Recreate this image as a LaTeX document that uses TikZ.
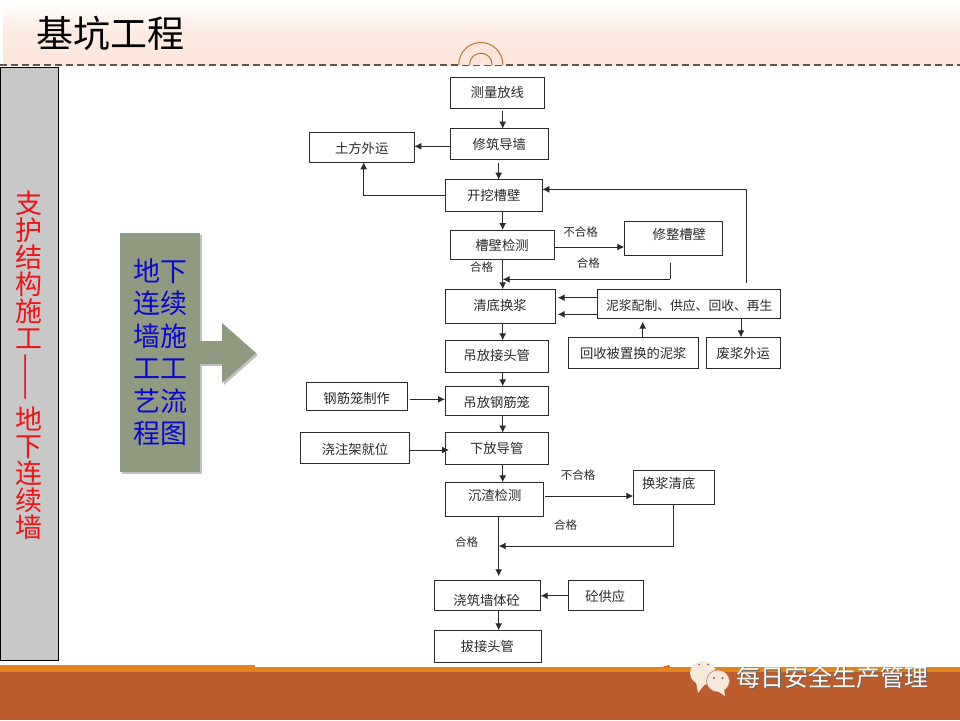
\documentclass[tikz,border=0pt]{standalone}
\usepackage{fontspec}
\setmainfont{Noto Sans CJK SC}
\usetikzlibrary{arrows.meta}
\definecolor{peach}{HTML}{FDE5D9}
\definecolor{dashc}{HTML}{5F5650}
\definecolor{ringc}{HTML}{B8762F}
\definecolor{panelg}{HTML}{C8C8C8}
\definecolor{sage}{HTML}{8F9A80}
\definecolor{bandor}{HTML}{E2851B}
\definecolor{bandbr}{HTML}{BC5B2C}
\definecolor{bubble}{HTML}{F8E9DF}
\definecolor{inkc}{HTML}{2B2B2B}
\definecolor{redt}{HTML}{F01414}
\definecolor{bluet}{HTML}{0A0ACF}
\tikzset{
  flowbox/.style={draw=inkc,line width=1pt,rectangle,inner sep=0pt,outer sep=0pt,text=inkc,fill=white},
  arr/.style={draw=inkc,line width=1pt,-{Latex[length=7pt,width=7pt]}},
  lne/.style={draw=inkc,line width=1pt},
  lbl/.style={font=\fontsize{11.5}{14}\selectfont,text=inkc,inner sep=0pt},
}
\newcommand\flowb[8][13.3]{%
  \pgfmathsetmacro\bcx{(#3+#5)/2}%
  \pgfmathsetmacro\bcy{(#4+#6)/2}%
  \pgfmathsetmacro\bdx{#7-\bcx}%
  \pgfmathsetmacro\brs{\bcy-#8-5}%
  \node[flowbox,minimum width={(#5-#3)*1pt},minimum height={(#6-#4)*1pt}] (#2) at (\bcx,\bcy)
    {\fontsize{#1}{16}\selectfont\makebox[0pt][l]{\kern\bdx pt\makebox[0pt][c]{\raisebox{\brs pt}[0pt][0pt]{\flowtext}}}};%
}
\begin{document}
\begin{tikzpicture}[x=1pt,y=-1pt]
\useasboundingbox (0,0) rectangle (960,720);
% header
\shade[top color=white,bottom color=peach,middle color=peach!75] (3,0) rectangle (960,65);
\draw[dashc,line width=1.5pt,dash pattern=on 6.5pt off 4.5pt] (0,65) -- (960,65);
\begin{scope}
  \clip (440,30) rectangle (520,64.5);
  \fill[peach] (480.8,64.5) circle (22);
  \draw[ringc,line width=1pt] (480.8,64.5) circle (22);
  \draw[ringc,line width=1pt] (480.8,64.5) circle (11.3);
\end{scope}
\node[inner sep=0pt,font=\fontsize{37}{40}\selectfont,text=black] (title) at (110,33) {基坑工程};
% left panel
\node[draw=black,line width=1pt,fill=panelg,rectangle,inner sep=0pt,minimum width=58pt,minimum height=593.5pt] (panel) at (29,364) {};
\node[inner sep=0pt,text=redt,align=center,font=\fontsize{27}{27}\selectfont] (ptop) at (29,269.5) {支\\护\\结\\构\\施\\工};
\node[inner sep=0pt,text=redt,rotate=90,font=\fontsize{28}{28}\selectfont] (pdash) at (29,377.5) {——};
\node[inner sep=0pt,text=redt,align=center,font=\fontsize{27}{27}\selectfont] (pbot) at (29,473) {地\\下\\连\\续\\墙};
% green arrow panel
\fill[black!45,opacity=.55] (122,235) rectangle (202,474);
\fill[black!45,opacity=.55] (202,343) -- (224,343) -- (224,325) -- (258,355) -- (224,385) -- (224,366) -- (202,366) -- cycle;
\fill[sage] (120,233) rectangle (200,472);
\fill[sage] (199,341) -- (222,341) -- (222,323) -- (256,353) -- (222,383) -- (222,364) -- (199,364) -- cycle;
\node[inner sep=0pt,text=bluet,align=center,font=\fontsize{27}{32.5}\selectfont] (bluetxt) at (160.5,352) {地下\\连续\\墙施\\工工\\艺流\\程图};
% footer
\fill[bandor] (0,665) rectangle (255,672);
\fill[bandor] (255,667) rectangle (960,672);
\fill[bandor!70!red] (662,667) -- (669,665) -- (670,667) -- cycle;
\fill[bandbr] (0,672) rectangle (960,720);
% wechat icon
\fill[bubble] (703,673) ellipse (13 and 12);
\fill[bubble] (696,682) -- (698,693) -- (705,684) -- cycle;
\fill[black!55] (699,664.5) circle (1);
\fill[black!55] (708,664.5) circle (1);
\draw[bandbr!80,line width=.6pt,fill=bubble] (718,681) ellipse (11.5 and 11);
\fill[bubble] (716,690) -- (725,696) -- (724,689) -- cycle;
\fill[black!60] (714,678) circle (1.1);
\fill[black!60] (722.5,678) circle (1.1);
\node[inner sep=0pt,text=black!60,font=\fontsize{24}{26}\selectfont] (wmshadow) at (833.3,678) {每日安全生产管理};
\node[inner sep=0pt,text=white,font=\fontsize{24}{26}\selectfont] (wm) at (832.5,677) {每日安全生产管理};
% flow boxes
\def\flowtext{测量放线}\flowb{a}{450.3}{77.3}{544.7}{108.7}{497.3}{92.7}
\def\flowtext{修筑导墙}\flowb{b}{450}{128.7}{548}{159}{499.3}{144.3}
\def\flowtext{土方外运}\flowb{tf}{309.3}{132}{414.3}{162.3}{361.7}{148}
\def\flowtext{开挖槽壁}\flowb{c}{445}{179.7}{542.3}{211.3}{493.7}{195.3}
\def\flowtext{槽壁检测}\flowb{d}{450.3}{230}{554.3}{259.3}{502}{245.7}
\def\flowtext{修整槽壁}\flowb{xz}{624.3}{221.7}{722.3}{255}{679.3}{234}
\def\flowtext{清底换浆}\flowb{e}{445}{289.3}{555.7}{323.3}{500}{305.3}
\def\flowtext{泥浆配制、供应、回收、再生}\flowb[12.8]{nj}{597}{289.3}{780.3}{318.7}{689.3}{305.3}
\def\flowtext{吊放接头管}\flowb{f}{445}{340.3}{548}{372}{496.7}{355.7}
\def\flowtext{回收被置换的泥浆}\flowb{hs}{568}{337.3}{698.3}{368.3}{633.3}{353.7}
\def\flowtext{废浆外运}\flowb{fj}{706.7}{337.3}{780.3}{368.3}{743.3}{353.7}
\def\flowtext{钢筋笼制作}\flowb{gj}{306.7}{382.7}{407.7}{410.7}{356.7}{398.7}
\def\flowtext{吊放钢筋笼}\flowb{g}{445}{386.3}{548}{415.7}{496.7}{402}
\def\flowtext{浇注架就位}\flowb{jz}{300}{432.7}{409.3}{463.3}{355}{449}
\def\flowtext{下放导管}\flowb{h}{445}{432.7}{548}{464.3}{496.7}{448.7}
\def\flowtext{沉渣检测}\flowb{i}{445}{482.3}{543.3}{516.3}{494.7}{495}
\def\flowtext{换浆清底}\flowb{hj}{633.3}{470.3}{714}{504.7}{668.7}{483.3}
\def\flowtext{浇筑墙体砼}\flowb{j}{434.7}{580.3}{540.7}{610.7}{486.7}{600}
\def\flowtext{砼供应}\flowb{gy}{568}{580.3}{643.7}{610.7}{605.3}{596.7}
\def\flowtext{拔接头管}\flowb{k}{434.7}{630.3}{541.7}{662.3}{487.3}{646.3}
% helper coordinates
\coordinate (xa) at (502.7,0);
\coordinate (xb) at (498.7,0);
\coordinate (xtf) at (363.7,0);
\coordinate (xhs) at (642.7,0);
\coordinate (xfj) at (741,0);
\coordinate (xz1) at (670,262.7);
\coordinate (xz2) at (670,279.3);
\coordinate (hj1) at (673.7,504.7);
\coordinate (hj2) at (673.7,546);
\coordinate (nj1) at (746.3,283.3);
\coordinate (nj2) at (746.3,189.3);
% connectors
\draw[arr] ([yshift=-2.6pt]xa |- a.south) -- (xa |- b.north);
\draw[arr] (b.west |- 0,146.3) -- (tf.east |- 0,146.3);
\draw[arr] ([yshift=-3.7pt]xb |- b.south) -- (xb |- c.north);
\draw[arr] (c.west) -- (xtf |- c.west) -- (xtf |- tf.south);
\draw[arr] (xa |- c.south) -- (xa |- d.north);
\draw[arr] (d.east |- 0,247) -- (xz.west |- 0,247);
\draw[lne] (xz1) -- (xz2);
\draw[arr] (xz2) -- (xa |- xz2);
\draw[arr] (xa |- d.south) -- (xa |- e.north);
\draw[arr] (nj.west |- 0,297.7) -- (557.7,297.7);
\draw[arr] (nj.west |- 0,314.3) -- (557.7,314.3);
\draw[arr] (nj1) -- (nj2) -- (c.east |- nj2);
\draw[arr] (xhs |- hs.north) -- (xhs |- 0,321.7);
\draw[arr] (xfj |- nj.south) -- (xfj |- fj.north);
\draw[arr] (xa |- e.south) -- (xa |- f.north);
\draw[arr] (xa |- f.south) -- (xa |- g.north);
\draw[arr] ([xshift=2.3pt]gj.east |- 0,399.3) -- (g.west |- 0,399.3);
\draw[arr] (xa |- g.south) -- (xa |- h.north);
\draw[arr] (jz.east |- 0,450) -- ([xshift=4pt]h.west |- 0,450);
\draw[arr] (xa |- h.south) -- (xa |- i.north);
\draw[arr] ([xshift=2pt]i.east |- 0,496) -- (hj.west |- 0,496);
\draw[arr] (hj1) -- (hj2) -- (xb |- hj2);
\draw[arr] (xb |- i.south) -- ([yshift=4pt]xb |- j.north);
\draw[arr] (gy.west |- 0,595.7) -- (j.east |- 0,595.7);
\draw[arr] (xb |- j.south) -- (xb |- k.north);
% labels
\node[lbl] (l1) at (580.7,232.3) {不合格};
\node[lbl] (l2) at (588.3,262.7) {合格};
\node[lbl] (l3) at (481.7,267.3) {合格};
\node[lbl] (l4) at (578,475) {不合格};
\node[lbl] (l5) at (565.7,525) {合格};
\node[lbl] (l6) at (466.7,542.3) {合格};
\end{tikzpicture}
\end{document}
